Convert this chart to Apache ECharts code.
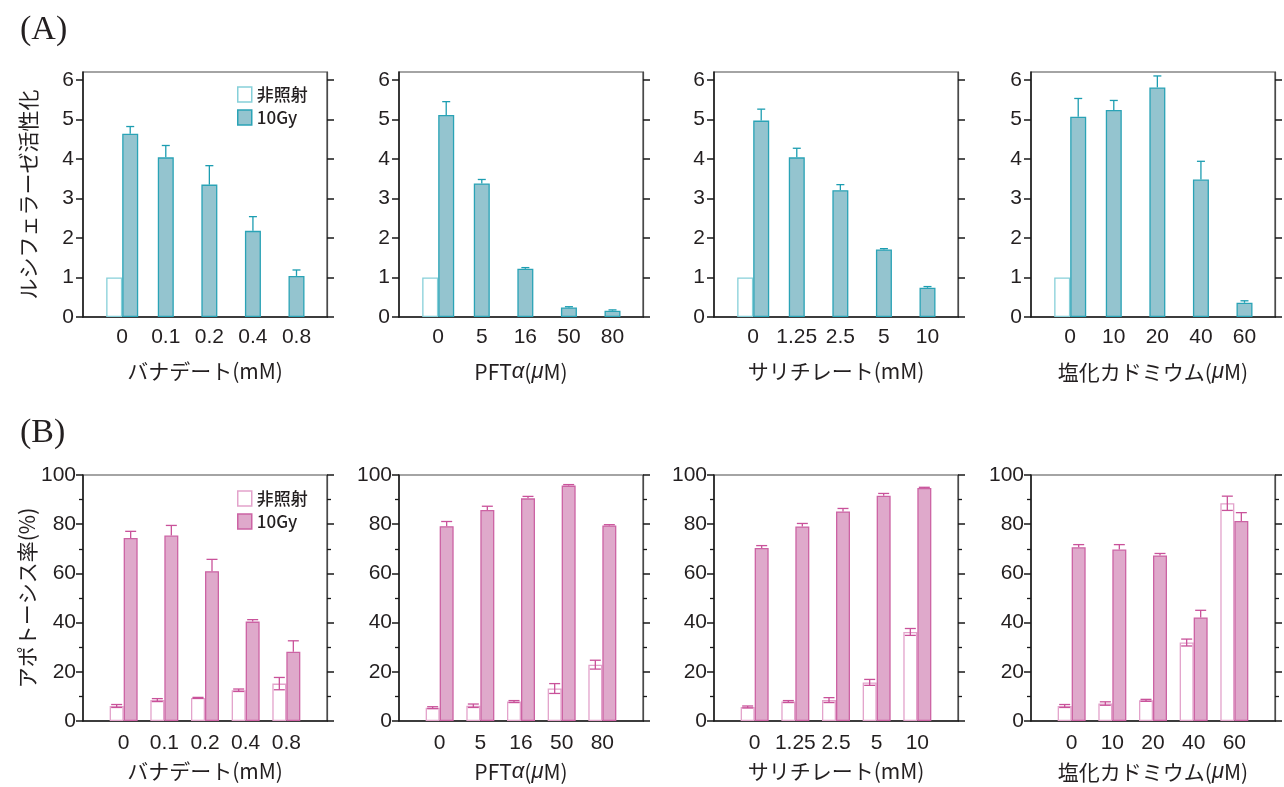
<!DOCTYPE html>
<html>
<head>
<meta charset="utf-8">
<script src="https://cdn.jsdelivr.net/npm/echarts@6/dist/echarts.min.js"></script>
<style>
html,body{margin:0;padding:0;background:#fff;}
#chart{width:1284px;height:787px;}
</style>
</head>
<body>
<div id="chart"></div>
<script>
// ---------- data ----------
const catsVan = ['0', '0.1', '0.2', '0.4', '0.8'];
const catsPft = ['0', '5', '16', '50', '80'];
const catsSal = ['0', '1.25', '2.5', '5', '10'];
const catsCd  = ['0', '10', '20', '40', '60'];

const xNameVan = 'バナデート(mM)';
const xNamePft = '{n|PFT}{i|α}{n|(}{i|μ}{n|M)}';
const xNameSal = 'サリチレート(mM)';
const xNameCd  = '{n|塩化カドミウム(}{i|μ}{n|M)}';

const yNameA = 'ルシフェラーゼ活性化';
const yNameB = 'アポトーシス率(%)';
const seriesNames = ['非照射', '10Gy'];

const yTicksA = [0, 1, 2, 3, 4, 5, 6];

// (A) luciferase activity
const lucCtrlVan = [1.0, null, null, null, null];
const lucIrrVan = [4.64, 4.04, 3.35, 2.18, 1.04];
const lucIrrVanErr = [0.18, 0.30, 0.48, 0.36, 0.15];

const lucCtrlPft = [1.0, null, null, null, null];
const lucIrrPft = [5.11, 3.38, 1.22, 0.24, 0.16];
const lucIrrPftErr = [0.34, 0.10, 0.03, 0.02, 0.02];

const lucCtrlSal = [1.0, null, null, null, null];
const lucIrrSal = [4.97, 4.04, 3.21, 1.71, 0.74];
const lucIrrSalErr = [0.29, 0.23, 0.14, 0.02, 0.03];

const lucCtrlCd = [1.0, null, null, null, null];
const lucIrrCd = [5.07, 5.24, 5.81, 3.48, 0.36];
const lucIrrCdErr = [0.46, 0.24, 0.29, 0.46, 0.05];

// (B) apoptosis rate (%)
const apoCtrlVan = [6.1, 8.5, 9.4, 12.5, 15.2];
const apoCtrlVanErr = [0.6, 0.6, 0.2, 0.5, 2.5];
const apoIrrVan = [74.4, 75.4, 60.9, 40.4, 28.2];
const apoIrrVanErr = [2.7, 4.1, 4.8, 0.8, 4.4];

const apoCtrlPft = [5.4, 6.2, 7.9, 13.2, 22.9];
const apoCtrlPftErr = [0.4, 0.7, 0.4, 2.0, 1.8];
const apoIrrPft = [79.2, 85.8, 90.5, 95.7, 79.5];
const apoIrrPftErr = [1.9, 1.5, 0.8, 0.4, 0.3];

const apoCtrlSal = [5.7, 7.9, 8.5, 15.7, 36.2];
const apoCtrlSalErr = [0.4, 0.4, 1.0, 1.2, 1.4];
const apoIrrSal = [70.3, 79.1, 85.2, 91.6, 94.7];
const apoIrrSalErr = [1.0, 1.2, 1.2, 0.9, 0.3];

const apoCtrlCd = [6.1, 7.1, 8.4, 31.9, 88.5];
const apoCtrlCdErr = [0.6, 0.7, 0.4, 1.4, 2.9];
const apoIrrCd = [70.6, 69.7, 67.3, 42.1, 81.3];
const apoIrrCdErr = [1.1, 2.0, 0.8, 2.9, 3.4];

// ---------- styles / layout ----------
const FONT_NUM = "'Liberation Sans', Arial, sans-serif";
const FONT_JP = "'Noto Sans CJK JP', 'Liberation Sans', sans-serif";
const TXT = '#231f20';

const rowStyle = [
  { top: 72, height: 245, yMax: 6.2, barW: 16, capW: 8, xMin: -0.9, xMax: 4.7,
    fill: '#94c4cf', border: '#2aa3b6', ctrlBorder: '#86d0d9', err: '#1c9db1',
    nameGapX: 44, labelMargin: 10 },
  { top: 475, height: 246, yMax: 100, barW: 14, capW: 11, xMin: -1, xMax: 5,
    fill: '#dfa9cb', border: '#cc63a4', ctrlBorder: '#e3a3cb', err: '#c9529a',
    nameGapX: 40, labelMargin: 12 }
];
const colLefts = [83, 399, 714, 1031];
const gridW = 244;

const panels = [
  { row: 0, col: 0, cats: catsVan, xName: xNameVan, ctrl: lucCtrlVan, ctrlErr: null, irr: lucIrrVan, irrErr: lucIrrVanErr },
  { row: 0, col: 1, cats: catsPft, xName: xNamePft, ctrl: lucCtrlPft, ctrlErr: null, irr: lucIrrPft, irrErr: lucIrrPftErr },
  { row: 0, col: 2, cats: catsSal, xName: xNameSal, ctrl: lucCtrlSal, ctrlErr: null, irr: lucIrrSal, irrErr: lucIrrSalErr },
  { row: 0, col: 3, cats: catsCd,  xName: xNameCd,  ctrl: lucCtrlCd,  ctrlErr: null, irr: lucIrrCd,  irrErr: lucIrrCdErr },
  { row: 1, col: 0, cats: catsVan, xName: xNameVan, ctrl: apoCtrlVan, ctrlErr: apoCtrlVanErr, irr: apoIrrVan, irrErr: apoIrrVanErr },
  { row: 1, col: 1, cats: catsPft, xName: xNamePft, ctrl: apoCtrlPft, ctrlErr: apoCtrlPftErr, irr: apoIrrPft, irrErr: apoIrrPftErr },
  { row: 1, col: 2, cats: catsSal, xName: xNameSal, ctrl: apoCtrlSal, ctrlErr: apoCtrlSalErr, irr: apoIrrSal, irrErr: apoIrrSalErr },
  { row: 1, col: 3, cats: catsCd,  xName: xNameCd,  ctrl: apoCtrlCd,  ctrlErr: apoCtrlCdErr, irr: apoIrrCd,  irrErr: apoIrrCdErr }
];

const grid = [], xAxis = [], yAxis = [], series = [];

panels.forEach((p, k) => {
  const rs = rowStyle[p.row];
  grid.push({
    left: colLefts[p.col], top: rs.top, width: gridW, height: rs.height,
    show: true, borderColor: '#4a4a4a', borderWidth: 1.2, backgroundColor: 'transparent',
    containLabel: false
  });
  const idx = p.cats.map((c, i) => i);
  // main x axis
  xAxis.push({
    type: 'value', gridIndex: k, min: rs.xMin, max: rs.xMax,
    name: p.xName, nameLocation: 'middle', nameGap: rs.nameGapX,
    nameTextStyle: {
      fontFamily: FONT_JP, fontSize: 21, color: TXT,
      rich: {
        n: { fontFamily: FONT_JP, fontSize: 21, color: TXT },
        i: { fontFamily: "'Liberation Sans', sans-serif", fontStyle: 'italic', fontSize: 22, color: TXT }
      }
    },
    axisLine: { show: true, onZero: false, lineStyle: { color: '#1a1a1a', width: 1.5 } },
    axisTick: { show: false },
    splitLine: { show: false },
    axisLabel: {
      customValues: idx, margin: rs.labelMargin,
      formatter: v => p.cats[Math.round(v)],
      fontFamily: FONT_NUM, fontSize: 21, color: TXT
    }
  });
  // hidden x axis for single (centered) bars
  xAxis.push({
    type: 'value', gridIndex: k, min: rs.xMin, max: rs.xMax, show: false
  });
  const yCommon = {
    type: 'value', gridIndex: k, min: 0, max: rs.yMax,
    splitLine: { show: false },
    axisLine: { show: true, onZero: false, lineStyle: { color: '#1a1a1a', width: 1.5 } }
  };
  const tickCfgA = { show: true, length: 7, customValues: yTicksA, lineStyle: { color: '#1a1a1a', width: 1.5 } };
  const tickCfgB = { show: true, length: 7, lineStyle: { color: '#1a1a1a', width: 1.5 } };
  const minorB = { show: true, splitNumber: 2, length: 4, lineStyle: { color: '#1a1a1a', width: 1.3 } };
  yAxis.push(Object.assign({}, yCommon, {
    position: 'left',
    interval: p.row === 1 ? 20 : undefined,
    name: p.col === 0 ? (p.row === 0 ? yNameA : yNameB) : '',
    nameLocation: 'middle', nameGap: 44,
    nameTextStyle: { fontFamily: FONT_JP, fontSize: 21, color: TXT },
    axisTick: p.row === 0 ? tickCfgA : tickCfgB,
    minorTick: p.row === 1 ? minorB : { show: false },
    axisLabel: p.row === 0
      ? { customValues: yTicksA, margin: 9, fontFamily: FONT_NUM, fontSize: 21, color: TXT }
      : { margin: 7, fontFamily: FONT_NUM, fontSize: 21, color: TXT }
  }));
  yAxis.push(Object.assign({}, yCommon, {
    position: 'right',
    interval: p.row === 1 ? 20 : undefined,
    axisLine: { show: true, onZero: false, lineStyle: { color: '#4a4a4a', width: 1.2 } },
    axisTick: p.row === 0 ? tickCfgA : tickCfgB,
    minorTick: p.row === 1 ? minorB : { show: false },
    axisLabel: { show: false }
  }));

  const xMain = 2 * k, xSingle = 2 * k + 1, yL = 2 * k;
  const ctrlData = [], pairIrr = [], singleIrr = [], errData = [];
  p.cats.forEach((c, i) => {
    if (p.ctrl[i] != null) {
      ctrlData.push([i, p.ctrl[i]]);
      pairIrr.push([i, p.irr[i]]);
      if (p.ctrlErr) errData.push([i, p.ctrl[i], p.ctrlErr[i], -1, 1]);
      errData.push([i, p.irr[i], p.irrErr[i], 1, 0]);
    } else {
      singleIrr.push([i, p.irr[i]]);
      errData.push([i, p.irr[i], p.irrErr[i], 0, 0]);
    }
  });
  series.push({
    type: 'bar', name: seriesNames[0], xAxisIndex: xMain, yAxisIndex: yL,
    barWidth: rs.barW, barGap: '0%', data: ctrlData, silent: true,
    itemStyle: { color: '#ffffff', borderColor: rs.ctrlBorder, borderWidth: 1.3 }
  });
  series.push({
    type: 'bar', name: seriesNames[1], xAxisIndex: xMain, yAxisIndex: yL,
    barWidth: rs.barW, barGap: '0%', data: pairIrr, silent: true,
    itemStyle: { color: rs.fill, borderColor: rs.border, borderWidth: 1.3 }
  });
  series.push({
    type: 'bar', name: seriesNames[1], xAxisIndex: xSingle, yAxisIndex: yL,
    barWidth: rs.barW, data: singleIrr, silent: true,
    itemStyle: { color: rs.fill, borderColor: rs.border, borderWidth: 1.3 }
  });
  series.push({
    type: 'custom', name: 'err' + k, xAxisIndex: xMain, yAxisIndex: yL, z: 5, silent: true,
    encode: { x: 0, y: 1 },
    data: errData,
    renderItem: function (params, api) {
      const x = api.value(0), v = api.value(1), e = api.value(2), side = api.value(3), both = api.value(4);
      const base = api.coord([x, v]);
      const top = api.coord([x, v + e]);
      const bot = api.coord([x, Math.max(0, v - e)]);
      const cx = base[0] + side * rs.barW / 2;
      const hw = rs.capW / 2;
      const st = { stroke: rs.err, lineWidth: 1.3 };
      const ch = [
        { type: 'line', shape: { x1: cx, y1: both ? bot[1] : base[1], x2: cx, y2: top[1] }, style: st },
        { type: 'line', shape: { x1: cx - hw, y1: top[1], x2: cx + hw, y2: top[1] }, style: st }
      ];
      if (both) ch.push({ type: 'line', shape: { x1: cx - hw, y1: bot[1], x2: cx + hw, y2: bot[1] }, style: st });
      return { type: 'group', children: ch };
    }
  });
});

function legendFor(rs, top) {
  return {
    orient: 'vertical', left: 237, top: top, padding: 0,
    itemWidth: 14, itemHeight: 15, itemGap: 6, selectedMode: false,
    textStyle: { fontFamily: FONT_JP, fontSize: 17, fontWeight: 500, color: TXT },
    data: [
      { name: seriesNames[0], icon: 'rect', itemStyle: { color: '#ffffff', borderColor: rs.ctrlBorder, borderWidth: 1.5 } },
      { name: seriesNames[1], icon: 'rect', itemStyle: { color: rs.fill, borderColor: rs.border, borderWidth: 1.5 } }
    ]
  };
}

const option = {
  backgroundColor: '#ffffff',
  animation: false,
  title: [
    { text: '(A)', left: 20, top: 13, padding: 0, textStyle: { fontFamily: "'Liberation Serif', serif", fontSize: 34, fontWeight: 'normal', color: TXT } },
    { text: '(B)', left: 20, top: 416, padding: 0, textStyle: { fontFamily: "'Liberation Serif', serif", fontSize: 34, fontWeight: 'normal', color: TXT } }
  ],
  legend: [legendFor(rowStyle[0], 86), legendFor(rowStyle[1], 490)],
  grid: grid,
  xAxis: xAxis,
  yAxis: yAxis,
  series: series
};

const chart = echarts.init(document.getElementById('chart'), null, { renderer: 'canvas' });
chart.setOption(option);
</script>
</body>
</html>
